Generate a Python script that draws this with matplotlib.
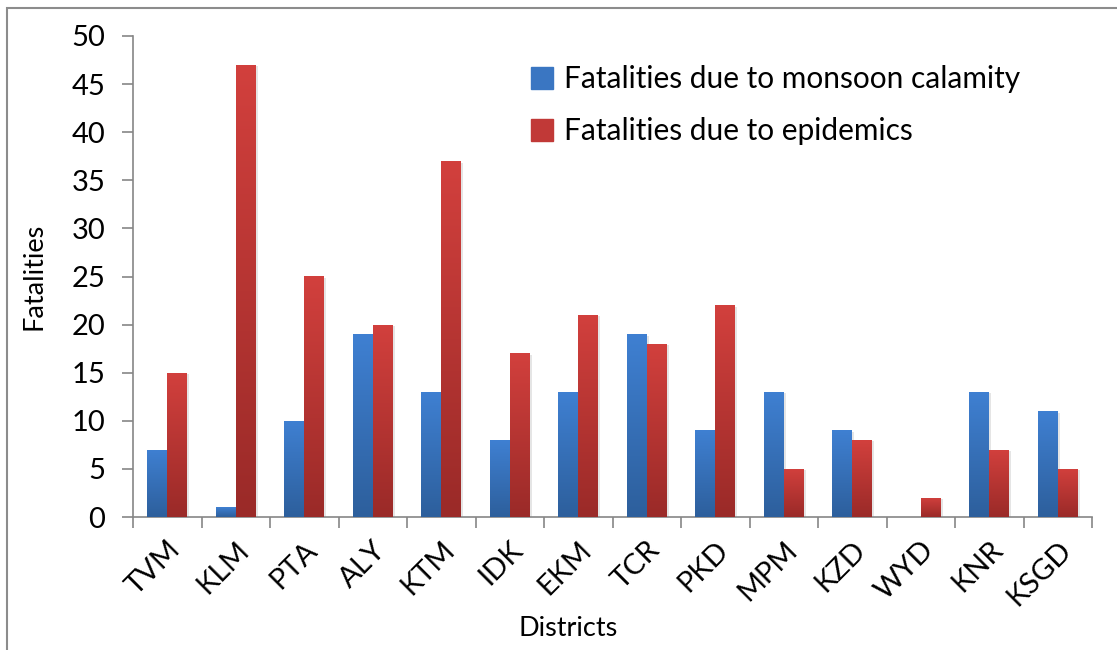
import matplotlib
matplotlib.use("Agg")
import matplotlib.pyplot as plt
import numpy as np
from matplotlib.colors import LinearSegmentedColormap
from matplotlib.patches import Rectangle

districts = ["TVM", "KLM", "PTA", "ALY", "KTM", "IDK", "EKM", "TCR", "PKD", "MPM", "KZD", "WYD", "KNR", "KSGD"]
monsoon = [7, 1, 10, 19, 13, 8, 13, 19, 9, 13, 9, 0, 13, 11]
epidemics = [15, 47, 25, 20, 37, 17, 21, 18, 22, 5, 8, 2, 7, 5]
series_names = ["Fatalities due to monsoon calamity", "Fatalities due to epidemics"]

plt.rcParams['font.family'] = ['Lato', 'DejaVu Sans']

fig = plt.figure(figsize=(11.17, 6.5), dpi=100)
ax = fig.add_axes([133/1117, 1-517/650, (1092-133)/1117, (517-36)/650])

# figure frame (left and top visible, continues past right/bottom edges)
fig.patches.append(Rectangle((7/1117, -0.05), 1.2, (642+0.05*650)/650, transform=fig.transFigure,
                             fill=False, edgecolor="#8c8c8c", linewidth=1.5))

x = np.arange(len(districts))
w = 0.29
b1 = ax.bar(x - w/2, monsoon, w, color="#3a78c6", label=series_names[0], zorder=2)
b2 = ax.bar(x + w/2, epidemics, w, color="#c43a37", label=series_names[1], zorder=2)

blue_cm = LinearSegmentedColormap.from_list("b", ["#2d5f9c", "#3f80d2"])
red_cm = LinearSegmentedColormap.from_list("r", ["#9a2a28", "#d2403d"])
grad = np.linspace(0, 1, 256).reshape(-1, 1)

def shade(bars, cmap):
    for p in bars:
        h = p.get_height()
        if h <= 0:
            continue
        x0 = p.get_x()
        im = ax.imshow(grad, cmap=cmap, aspect='auto', origin='lower',
                       extent=[x0, x0 + p.get_width(), 0, h], zorder=3)
        im.set_clip_path(p)
        ax.add_patch(Rectangle((x0 + 0.03, 0), p.get_width(), h - 0.15, color="#000000",
                               alpha=0.10, zorder=1, linewidth=0))

shade(b1, blue_cm)
shade(b2, red_cm)

ax.set_xlim(-0.5, len(districts) - 0.5)
ax.set_ylim(0, 50)
ax.set_yticks(np.arange(0, 51, 5))
ax.tick_params(axis='y', labelsize=21, length=8, width=1.2, color="#868686", pad=12)
ax.set_xticks(np.arange(-0.5, len(districts)), minor=False)
ax.set_xticklabels([])
ax.set_xticks(x, minor=True)
ax.set_xticklabels(districts, minor=True, rotation=45, ha='right', rotation_mode='anchor', fontsize=21)
ax.tick_params(axis='x', which='major', length=8, width=1.2, color="#868686", direction='out')
ax.tick_params(axis='x', which='minor', length=0, pad=14)

for s in ['top', 'right']:
    ax.spines[s].set_visible(False)
for s in ['left', 'bottom']:
    ax.spines[s].set_color("#868686")
    ax.spines[s].set_linewidth(1.2)

ax.set_ylabel("Fatalities", fontsize=19.5, labelpad=18)
ax.set_xlabel("Districts", fontsize=19.5, labelpad=6)
ax.xaxis.set_label_coords((568-133)/959, -0.205)

leg = ax.legend(loc='upper left', bbox_to_anchor=(0.387, 0.995), frameon=False, fontsize=21.5,
                handlelength=0.75, handleheight=0.75, handletextpad=0.35, labelspacing=0.8)
for h, cm in zip(leg.legend_handles, [blue_cm, red_cm]):
    h.set_color(cm(0.7))

fig.savefig("out.png", dpi=100)
